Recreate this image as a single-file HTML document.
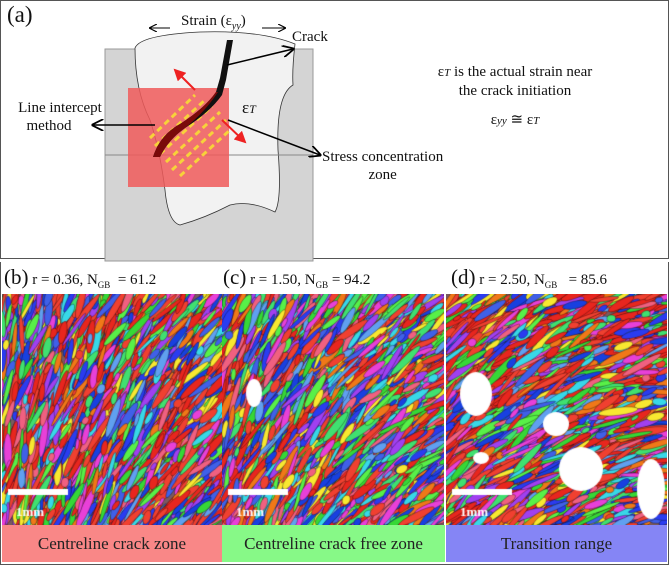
<!DOCTYPE html>
<html><head><meta charset="utf-8"><style>
body{margin:0;background:#fff;width:669px;height:566px;overflow:hidden;position:relative;font-family:"Liberation Serif",serif;}
.t{position:absolute;white-space:nowrap;color:#111;}
canvas{position:absolute;}
.lab{position:absolute;top:525px;height:37px;line-height:37px;text-align:center;font-size:17px;color:#222;}
</style></head><body>
<div style="position:absolute;left:0;top:0;width:667px;height:257px;border:1px solid #555;"></div>
<svg width="669" height="262" style="position:absolute;left:0;top:0">
<defs><marker id="a" markerWidth="8" markerHeight="8" refX="7" refY="4" orient="auto"><path d="M0,0 L8,4 L0,8" fill="none" stroke="#000" stroke-width="1.2"/></marker>
<marker id="r" markerWidth="6" markerHeight="6" refX="5" refY="3" orient="auto"><path d="M0,0 L6,3 L0,6z" fill="#e22"/></marker></defs>
<rect x="105" y="49" width="208" height="212" fill="#d4d4d4" stroke="#999"/>
<path d="M135,48 Q140,35 200,32 Q260,30 295,44 Q292,70 293,85 Q276,95 278,150 Q282,200 275,212 Q250,200 230,205 Q205,218 180,225 Q168,222 165,190 Q160,150 150,120 Q135,90 135,48Z" fill="#f2f2f2" stroke="#333" stroke-width="0.8"/>
<line x1="105" y1="155" x2="313" y2="155" stroke="#888"/>
<rect x="128" y="88" width="101" height="99" fill="#f05a5a" opacity="0.85"/>
<g stroke="#f7d23a" stroke-width="3" stroke-dasharray="6,4">
<line x1="150" y1="138" x2="195" y2="95"/><line x1="155" y1="146" x2="205" y2="100"/><line x1="160" y1="154" x2="212" y2="106"/><line x1="166" y1="162" x2="220" y2="112"/><line x1="172" y1="170" x2="226" y2="120"/><line x1="180" y1="176" x2="230" y2="130"/>
</g>
<path d="M227,40 L233,40 L226,80 L222,95 Q210,112 185,128 Q168,140 160,157 L153,157 Q160,135 180,124 Q205,108 216,92 L220,78Z" fill="#111"/>
<path d="M218,92 Q205,112 185,128 Q168,140 160,157 L153,157 Q160,135 180,124 Q205,108 216,92Z" fill="#7a0a0a"/>
<line x1="195" y1="90" x2="175" y2="70" stroke="#e22" stroke-width="2" marker-end="url(#r)"/>
<line x1="222" y1="120" x2="245" y2="142" stroke="#e22" stroke-width="2" marker-end="url(#r)"/>
<line x1="170" y1="28" x2="150" y2="28" stroke="#000" marker-end="url(#a)"/>
<line x1="262" y1="28" x2="285" y2="28" stroke="#000" marker-end="url(#a)"/>
<line x1="227" y1="65" x2="293" y2="49" stroke="#000" stroke-width="1.5" marker-end="url(#a)"/>
<line x1="155" y1="125" x2="93" y2="125" stroke="#000" stroke-width="1.5" marker-end="url(#a)"/>
<line x1="228" y1="120" x2="320" y2="155" stroke="#000" stroke-width="1.5" marker-end="url(#a)"/>
</svg>
<div class="t" style="left:7px;top:2px;font-size:23px">(a)</div>
<div class="t" style="left:181px;top:13px;font-size:15px">Strain (ε<sub style="font-size:10px;font-style:italic">yy</sub>)</div>
<div class="t" style="left:292px;top:29px;font-size:15px">Crack</div>
<div class="t" style="left:14px;top:99px;font-size:15px;text-align:center;width:92px;line-height:18px">Line intercept<br><span style="margin-right:22px">method</span></div>
<div class="t" style="left:242px;top:98px;font-size:17px">ε<i style="font-size:12px">T</i></div>
<div class="t" style="left:322px;top:148px;font-size:15px;line-height:18px;text-align:center">Stress concentration<br>zone</div>
<div class="t" style="left:415px;top:63px;width:200px;font-size:15px;line-height:18px;text-align:center">ε<i style="font-size:11px">T</i> is the actual strain near<br>the crack initiation</div>
<div class="t" style="left:415px;top:110px;width:200px;font-size:15px;text-align:center">ε<i style="font-size:11px">yy</i> ≅ ε<i style="font-size:11px">T</i></div>
<div style="position:absolute;left:0;top:262px;width:667px;height:302px;border:1px solid #555;border-top:none"></div>
<div class="t" style="left:4px;top:265px;font-size:15px"><span style="font-size:21px">(b)</span> r = 0.36, N<sub style="font-size:9px">GB</sub> &nbsp;= 61.2</div>
<div class="t" style="left:223px;top:265px;font-size:15px"><span style="font-size:21px">(c)</span> r = 1.50, N<sub style="font-size:9px">GB</sub> = 94.2</div>
<div class="t" style="left:451px;top:265px;font-size:15px"><span style="font-size:21px">(d)</span> r = 2.50, N<sub style="font-size:9px">GB</sub> &nbsp;&nbsp;= 85.6</div>
<canvas id="c1" width="220" height="231" style="left:2px;top:294px"></canvas>
<canvas id="c2" width="222" height="231" style="left:222px;top:294px"></canvas>
<canvas id="c3" width="221" height="231" style="left:446px;top:294px"></canvas>
<div class="lab" style="left:2px;width:220px;background:#f98787">Centreline crack zone</div>
<div class="lab" style="left:222px;width:223px;background:#87f987">Centreline crack free zone</div>
<div class="lab" style="left:446px;width:221px;background:#8585f5">Transition range</div>
<script>
var s=7;function R(){s=(s*16807)%2147483647;return s/2147483647;}
var cols=["#e8261e","#f04030","#2a3cf0","#1840e0","#36d836","#58f048","#f07818","#e840d8","#38d8e8","#f8e830","#a040f0","#f06080","#60a0f0","#4060e8","#40e070"];
function draw(id,w,bias,ang,holes){var c=document.getElementById(id).getContext('2d');c.fillStyle="#7a5a60";c.fillRect(0,0,w,231);
for(var i=0;i<2600;i++){var x=R()*w,y=R()*231;var k=R()<bias?(R()<0.5?0:1):Math.floor(R()*cols.length);c.fillStyle=cols[k];c.save();c.translate(x,y);c.rotate(ang+(R()-0.5)*0.6+(x/w-0.5)*0.6);c.beginPath();c.ellipse(0,0,4+R()*18,1.5+R()*2.5,0,0,6.3);c.fill();c.strokeStyle="rgba(0,0,0,0.5)";c.lineWidth=0.6;c.stroke();c.restore();}
c.fillStyle="#fff";holes.forEach(function(h){c.beginPath();c.ellipse(h[0],h[1],h[2],h[3],0,0,6.3);c.fill();});
c.fillRect(6,195,60,6);c.font="bold 13px Liberation Serif";c.fillText("1mm",14,222);}
draw("c1",220,0.2,-1.1,[]);
draw("c2",222,0.1,-0.9,[[32,99,8,14]]);
draw("c3",221,0.25,-0.5,[[30,100,16,22],[110,130,13,12],[135,175,22,22],[35,164,8,6],[205,195,14,30]]);
</script>
</body></html>
